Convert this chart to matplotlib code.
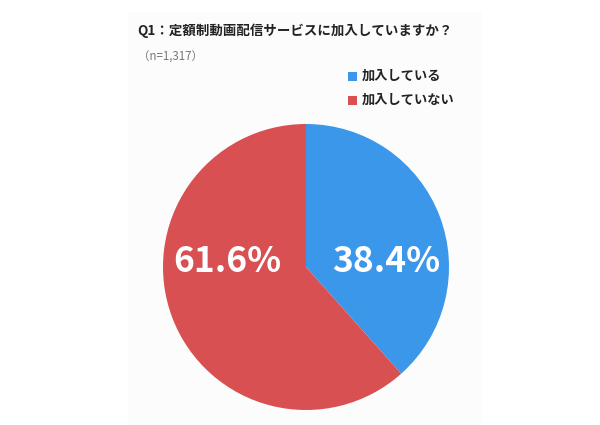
import matplotlib
matplotlib.use('Agg')
import matplotlib.pyplot as plt
from matplotlib.patches import Rectangle

plt.rcParams['font.family'] = ['Noto Sans CJK JP', 'DejaVu Sans']

# data
title = 'Q1：定額制動画配信サービスに加入していますか？'
sample_note = '（n=1,317）'
labels = ['加入している', '加入していない']
values = [38.4, 61.6]
colors = ['#3a97ea', '#d85052']

W, H = 600, 425
fig = plt.figure(figsize=(W / 100, H / 100), dpi=100)
fig.patch.set_facecolor('white')

# faint panel behind the chart
fig.add_artist(Rectangle((128 / W, 0), (482 - 128) / W, (425 - 12) / H,
                         transform=fig.transFigure, facecolor='#fcfcfc',
                         edgecolor='none', zorder=-5))

# pie axes: centre (306, 267), radius 143 px
cx, cy, r = 306, 267, 143
ax = fig.add_axes([(cx - r) / W, (H - cy - r) / H, 2 * r / W, 2 * r / H])
ax.set_zorder(2)
ax.patch.set_visible(False)
ax.pie(values, colors=colors, startangle=90, counterclock=False,
       wedgeprops=dict(linewidth=0))
ax.set_xlim(-1, 1)
ax.set_ylim(-1, 1)
ax.set_aspect('equal')
ax.axis('off')

# percent labels
ax.text(0.56, 0.04, f'{values[0]:.1f}%', color='white', fontsize=25.5,
        fontweight='bold', ha='center', va='center')
ax.text(-0.55, 0.04, f'{values[1]:.1f}%', color='white', fontsize=25.5,
        fontweight='bold', ha='center', va='center')

# title and note
fig.text(137 / W, 1 - 31 / H, title, fontsize=9.7, fontweight='bold',
         color='#222222', ha='left', va='center')
fig.text(138 / W, 1 - 57 / H, sample_note, fontsize=8.3, color='#777777',
         ha='left', va='center')

# legend
for i, (lab, col) in enumerate(zip(labels, colors)):
    y = 1 - (76 + 24 * i) / H
    fig.add_artist(Rectangle((348 / W, y - 4.5 / H), 9 / W, 9 / H,
                             transform=fig.transFigure, facecolor=col,
                             edgecolor='none'))
    fig.text(362 / W, y, lab, fontsize=9.5, fontweight='bold', color='#222222',
             ha='left', va='center')

fig.savefig('out.png', dpi=100)
